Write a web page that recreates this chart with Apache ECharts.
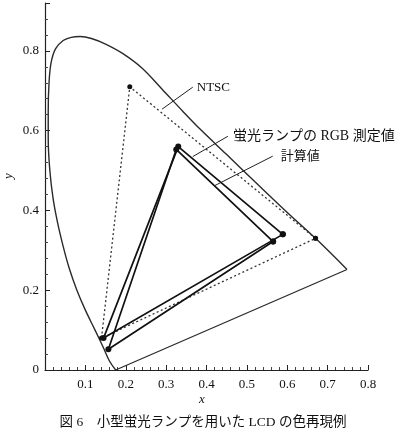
<!DOCTYPE html>
<html><head><meta charset="utf-8">
<script src="https://cdn.jsdelivr.net/npm/echarts@6/dist/echarts.min.js"></script>
<style>html,body{margin:0;padding:0;background:#fff}#c{width:402px;height:442px}</style>
</head><body><div id="c"></div>
<script>
// Spectral locus
const locusX = [0.175,0.160,0.145,0.124,0.100,0.079,0.060,0.045,0.031,0.020,0.012,0.008,0.008,0.010,0.015,0.026,0.045,0.065,0.087,0.115,0.150,0.193,0.240,0.290,0.340,0.384,0.450,0.520,0.600,0.670,0.748];
const locusY = [0.000,0.022,0.055,0.100,0.150,0.200,0.255,0.310,0.370,0.430,0.500,0.580,0.650,0.720,0.770,0.805,0.826,0.834,0.836,0.831,0.817,0.793,0.757,0.704,0.650,0.604,0.540,0.472,0.395,0.330,0.252];
// purple line
const purpleX = [0.175, 0.748];
const purpleY = [0.000, 0.252];
// NTSC triangle R,G,B,R
const ntscX = [0.670, 0.210, 0.140, 0.670];
const ntscY = [0.330, 0.710, 0.080, 0.330];
// Measured RGB of fluorescent lamp
const measX = [0.589, 0.330, 0.145, 0.589];
const measY = [0.340, 0.560, 0.080, 0.340];
// Calculated values
const calcX = [0.565, 0.325, 0.157, 0.565];
const calcY = [0.322, 0.553, 0.052, 0.322];
// leader lines (start on curve -> end at label)
const ntscLeadX = [0.290, 0.366], ntscLeadY = [0.654, 0.709];
const measLeadX = [0.366, 0.453], measLeadY = [0.535, 0.586];
const calcLeadX = [0.420, 0.564], calcLeadY = [0.462, 0.536];
// texts
const labelNTSC = 'NTSC';
const labelMeas = '蛍光ランプの RGB 測定値';
const labelCalc = '計算値';
const xName = 'x', yName = 'y';
const caption = '図 6　小型蛍光ランプを用いた LCD の色再現例';

const zip = (xs, ys) => xs.map((x, i) => [x, ys[i]]);
const FONT = '"Liberation Serif", "Noto Sans CJK JP", serif';
const TXT = '#111';

const chart = echarts.init(document.getElementById('c'), null, {renderer: 'canvas'});
const leader = (xs, ys, text, dist, size) => ({
  type: 'line', data: zip(xs, ys), symbol: 'none', silent: true,
  lineStyle: {color: '#222', width: 1},
  endLabel: {show: true, formatter: text, distance: dist, fontFamily: FONT, fontSize: size, color: TXT}
});
chart.setOption({
  animation: false,
  backgroundColor: '#fff',
  grid: {left: 45, right: 34, top: 3, bottom: 72, containLabel: false, outerBoundsMode: 'none'},
  xAxis: {
    type: 'value', min: 0, max: 0.8, interval: 0.1,
    axisLine: {lineStyle: {color: '#222', width: 1.2}},
    axisTick: {inside: true, length: 5, lineStyle: {color: '#222'}},
    minorTick: {show: true, splitNumber: 5, length: 3, lineStyle: {color: '#444'}},
    splitLine: {show: false},
    axisLabel: {fontFamily: FONT, fontSize: 13, color: TXT, margin: 8,
      formatter: v => (v === 0 ? '' : v.toFixed(1))}
  },
  yAxis: {
    type: 'value', min: 0, max: 0.92, interval: 0.2,
    axisLine: {show: true, lineStyle: {color: '#222', width: 1.2}},
    axisTick: {show: true, inside: true, length: 5, lineStyle: {color: '#222'}},
    minorTick: {show: true, splitNumber: 5, length: 3, lineStyle: {color: '#444'}},
    splitLine: {show: false},
    axisLabel: {fontFamily: FONT, fontSize: 13, color: TXT, margin: 6,
      formatter: v => {
        const r = v / 0.2;
        if (Math.abs(r - Math.round(r)) > 1e-6) return '';
        return v === 0 ? '0' : v.toFixed(1);
      }}
  },
  series: [
    {type: 'line', data: zip(locusX, locusY), smooth: 0.35, symbol: 'none',
     lineStyle: {color: '#2a2a2a', width: 1.4}},
    {type: 'line', data: zip(purpleX, purpleY), symbol: 'none',
     lineStyle: {color: '#2a2a2a', width: 1.3}},
    {type: 'line', data: zip(ntscX, ntscY), symbol: 'circle', symbolSize: 5,
     itemStyle: {color: '#111'}, lineStyle: {color: '#333', width: 1.3, type: [2, 2.5]}},
    {type: 'line', data: zip(measX, measY), symbol: 'circle', symbolSize: 6,
     itemStyle: {color: '#111'}, lineStyle: {color: '#111', width: 1.7}},
    {type: 'line', data: zip(calcX, calcY), symbol: 'circle', symbolSize: 6,
     itemStyle: {color: '#111'}, lineStyle: {color: '#111', width: 1.7}},
    leader(ntscLeadX, ntscLeadY, labelNTSC, 4, 13),
    leader(measLeadX, measLeadY, labelMeas, 5, 14),
    leader(calcLeadX, calcLeadY, labelCalc, 8, 13)
  ],
  graphic: [
    {type: 'text', x: 9, y: 176, rotation: Math.PI / 2,
     style: {text: yName, font: 'italic 13px ' + FONT, fill: TXT, textAlign: 'center', textVerticalAlign: 'middle'}},
    {type: 'text', x: 202, y: 400,
     style: {text: xName, font: 'italic 13px ' + FONT, fill: TXT, textAlign: 'center', textVerticalAlign: 'middle'}},
    {type: 'text', x: 203, y: 422,
     style: {text: caption, font: '13.5px ' + FONT, fill: TXT, textAlign: 'center', textVerticalAlign: 'middle'}}
  ]
});
</script></body></html>
